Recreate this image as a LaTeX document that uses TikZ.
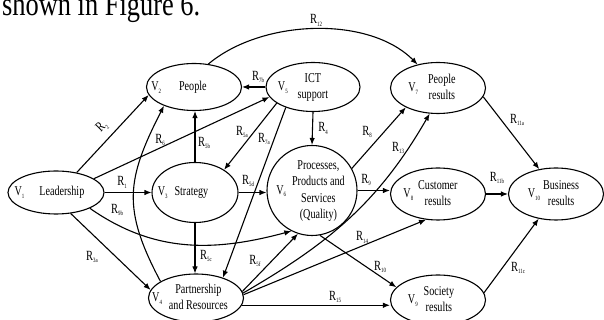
\documentclass[tikz,border=0pt]{standalone}
\usepackage{fontspec}
\setmainfont{Liberation Serif}[FakeStretch=0.75]
\newfontfamily\capfont{Liberation Serif}[FakeStretch=0.8]
\usetikzlibrary{shapes.geometric,arrows.meta}

\newcommand{\rsub}[1]{R\raisebox{-0.45ex}{\fontsize{6.5}{6.5}\selectfont #1}}
\newcommand{\vsub}[1]{V\raisebox{-0.45ex}{\fontsize{6.5}{6.5}\selectfont #1}}
\newcommand{\twolines}[2]{\begin{tabular}{@{}c@{}}#1\\#2\end{tabular}}

\tikzset{
  vnode/.style={draw, ellipse, line width=1.1pt, minimum width=95pt, minimum height=50pt, inner sep=0pt},
  vtxt/.style={inner sep=0pt, align=center, font=\fontsize{13.5}{16.5}\selectfont},
  lab/.style={inner sep=0pt, font=\fontsize{14}{16}\selectfont},
  arr/.style={line width=1.1pt, -{Latex[length=7pt,width=5.5pt]}}
}

\begin{document}
\begin{tikzpicture}[x=1pt,y=1pt]
\useasboundingbox (0,0) rectangle (604,320);
\node at (2,304) [anchor=base west, inner sep=0pt, font=\capfont\fontsize{33}{33}\selectfont] (cap) {shown in Figure 6.};
\node at (56,127.5) [vnode, minimum width=96pt, minimum height=43pt] (v1) {};
\node at (194,233) [vnode, minimum height=47pt] (v2) {};
\node at (313,233) [vnode, minimum width=94pt, minimum height=49pt] (v5) {};
\node at (438,232) [vnode, minimum height=51pt] (v7) {};
\node at (195,127.5) [vnode, minimum width=86pt, minimum height=60pt] (v3) {};
\node at (312,129.5) [vnode, minimum width=90pt, minimum height=90pt] (v6) {};
\node at (438,126) [vnode, minimum height=52pt] (v8) {};
\node at (556,126) [vnode, minimum height=52pt] (v10) {};
\node at (196,22) [vnode, minimum height=48pt] (v4) {};
\node at (438,20) [vnode] (v9) {};
\node at ([xshift=-6.5pt]v1.center) [vtxt] (t1) {\vsub{1}\hspace{15pt}Leadership};
\node at ([xshift=-15pt]v2.center) [vtxt] (t2) {\vsub{2}\hspace{18pt}People};
\node at ([xshift=-10pt]v5.center) [vtxt] (t5) {\vsub{5}\hspace{10pt}\twolines{ICT}{support}};
\node at ([xshift=-6pt]v7.center) [vtxt] (t7) {\vsub{7}\hspace{10pt}\twolines{People}{results}};
\node at ([xshift=-12pt]v3.center) [vtxt] (t3) {\vsub{3}\hspace{7pt}Strategy};
\node at ([xshift=-1.5pt]v6.center) [vtxt] (t6) {\vsub{6}\hspace{6pt}\begin{tabular}{@{}c@{}}Processes,\\Products and\\Services\\(Quality)\end{tabular}};
\node at ([xshift=-7.5pt]v8.center) [vtxt] (t8) {\vsub{8}\hspace{5pt}\twolines{Customer}{results}};
\node at ([xshift=-2.5pt]v10.center) [vtxt] (t10) {\vsub{10}\hspace{3pt}\twolines{Business}{results}};
\node at ([xshift=-6pt]v4.center) [vtxt] (t4) {\vsub{4}\hspace{7pt}\twolines{Partnership}{and Resources}};
\node at ([xshift=-7pt]v9.center) [vtxt] (t9) {\vsub{9}\hspace{6pt}\twolines{Society}{results}};
\draw[arr] (v2.58) to[out=40,in=135,looseness=0.85] (v7.131);
\draw[arr] (v1.44) -- (v2.190);
\draw[arr] (v1.20) -- (v5.193);
\draw[arr] (v4.155) to[out=118,in=243,looseness=1.2] (v2.212);
\draw[arr] (v3.north) -- (v2.south -| v3.north);
\draw[arr] (v5.west) -- (v2.east);
\draw[arr] (v5.204) -- (v3.38);
\draw[arr] (v5.217) -- (v4.37);
\draw[arr] (v5.south) -- (v6.north);
\draw[arr] (v1.east) -- (v3.west);
\draw[arr] (v3.east) -- (v3.east -| v6.west);
\draw[arr] (v1.335) to[out=-35,in=195] (v6.243);
\draw[arr] (v1.305) -- (v4.170);
\draw[arr] (v3.south) -- (v4.north -| v3.south);
\draw[arr] (v4.8) -- (v6.252);
\draw[arr] (v4.6) to[out=30,in=240] (v7.252);
\draw[arr] (v4.4) -- (v8.245);
\draw[arr] (v4.-9) -- (v4.-9 -| v9.west);
\draw[arr] (v6.29) -- (v7.211);
\draw[arr] (v6.east) -- (v6.east -| v8.west);
\draw[arr] (v6.280) -- (v9.163);
\draw[arr] (v7.-11) -- (v10.124);
\draw[arr] (v8.east) -- (v10.west);
\draw[arr] (v9.9) -- (v10.235);
\node at (316,300) [lab] (r12) {\rsub{12}};
\node at (102,193) [lab, rotate=45] (r2) {\rsub{2}};
\node at (160,180) [lab] (r6) {\rsub{6}};
\node at (204,177) [lab] (r5b) {\rsub{5b}};
\node at (258,243) [lab] (r7b) {\rsub{7b}};
\node at (242,188) [lab] (r5a) {\rsub{5a}};
\node at (264,181) [lab] (r7a) {\rsub{7a}};
\node at (323,192) [lab] (r4) {\rsub{4}};
\node at (122,138) [lab] (r1) {\rsub{1}};
\node at (248,139) [lab] (r5d) {\rsub{5d}};
\node at (117,110) [lab] (r9b) {\rsub{9b}};
\node at (92,63) [lab] (r3a) {\rsub{3a}};
\node at (206,64) [lab] (r5c) {\rsub{5c}};
\node at (255,59) [lab] (r5f) {\rsub{5f}};
\node at (367,188) [lab] (r8) {\rsub{8}};
\node at (398,172) [lab] (r13) {\rsub{13}};
\node at (366,140) [lab] (r9) {\rsub{9}};
\node at (362,83) [lab] (r14) {\rsub{14}};
\node at (380,53) [lab] (r10) {\rsub{10}};
\node at (335,23) [lab] (r15) {\rsub{15}};
\node at (517,200) [lab] (r11a) {\rsub{11a}};
\node at (497,142) [lab] (r11b) {\rsub{11b}};
\node at (518,52) [lab] (r11c) {\rsub{11c}};
\end{tikzpicture}
\end{document}
